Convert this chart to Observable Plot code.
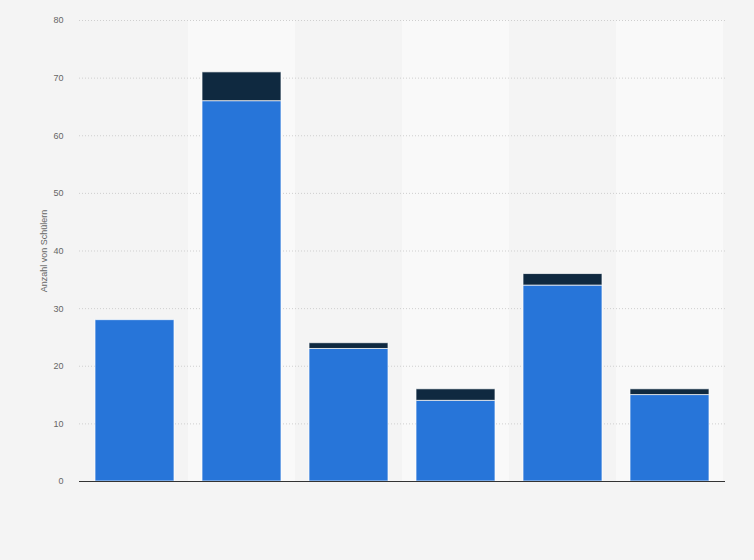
<!DOCTYPE html>
<html>
<head>
<meta charset="utf-8">
<script src="https://cdn.jsdelivr.net/npm/d3@7"></script>
<script src="https://cdn.jsdelivr.net/npm/@observablehq/plot@0.6"></script>
<style>
  html, body { margin: 0; padding: 0; background: #f4f4f4; }
  #chart { width: 754px; height: 560px; }
  svg { display: block; }
</style>
</head>
<body>
<div id="chart"></div>
<script>
const categories = ["1", "2", "3", "4", "5", "6"];
const seriesNames = ["Serie A", "Serie B"];
const seriesA = [28, 66, 23, 14, 34, 15];
const seriesB = [0, 5, 1, 2, 2, 1];
const yTicks = [0, 10, 20, 30, 40, 50, 60, 70, 80];

const rows = [];
categories.forEach((c, i) => {
  rows.push({cat: c, series: seriesNames[0], value: seriesA[i]});
  rows.push({cat: c, series: seriesNames[1], value: seriesB[i]});
});
const bgBands = categories.filter((c, i) => i % 2 === 1);

const plot = Plot.plot({
  width: 754,
  height: 560,
  marginTop: 20,
  marginBottom: 79,
  marginLeft: 79,
  marginRight: 29,
  style: {background: "#f4f4f4", fontFamily: "Arial, 'Liberation Sans', sans-serif"},
  x: {domain: categories, padding: 0, axis: null},
  y: {domain: [0, 80], ticks: yTicks},
  color: {domain: seriesNames, range: ["#2775d9", "#0f2940"]},
  marks: [
    Plot.barY(bgBands, {x: d => d, y1: 0, y2: 80, fill: "#f9f9f9", inset: 0}),
    Plot.ruleY(yTicks.filter(t => t > 0), {stroke: "#cfcfcf", strokeDasharray: "1,2", strokeWidth: 1}),
    Plot.axisY({
      ticks: yTicks,
      tickSize: 0,
      tickPadding: 16,
      fontSize: 9,
      fill: "#666",
      label: "Anzahl von Schülern",
      labelAnchor: "center",
      labelArrow: "none",
      labelOffset: 39
    }),
    Plot.barY(rows, {
      x: "cat", y: "value", fill: "series",
      order: seriesNames,
      insetLeft: 14, insetRight: 14,
      stroke: "#ffffff", strokeOpacity: 0.7, strokeWidth: 1
    }),
    Plot.ruleY([0], {stroke: "#333", strokeWidth: 1.2})
  ]
});
document.getElementById("chart").appendChild(plot);
</script>
</body>
</html>
